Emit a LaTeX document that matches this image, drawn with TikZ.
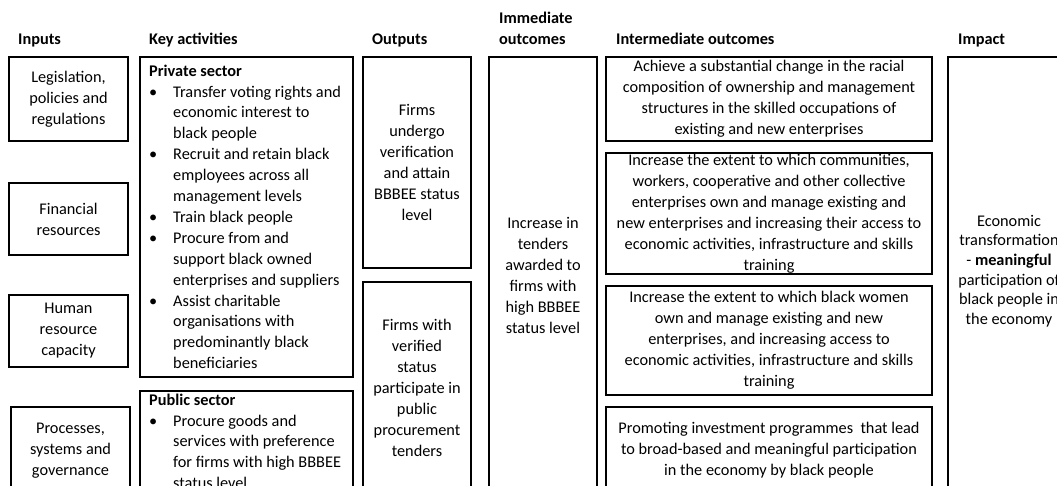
\documentclass[tikz,border=0pt]{standalone}
\usepackage{fontspec}
\setmainfont{Carlito}
\newcommand{\bul}{\makebox[24pt][l]{\textbullet}}
\newcommand{\ind}{\hspace*{24pt}}
\begin{document}
\begin{tikzpicture}[x=1pt,y=-1pt,
  box/.style={draw=black, line width=2.6pt, rectangle, inner sep=0pt, align=center,
    font=\fontsize{16.3}{21}\selectfont},
  head/.style={anchor=base west, inner sep=0pt, font=\fontsize{16.3}{21}\selectfont\bfseries},
  list/.style={anchor=north west, inner sep=0pt, align=left, font=\fontsize{16.3}{20.9}\selectfont}]
\useasboundingbox (0,0) rectangle (1057,486);
\clip (0,0) rectangle (1057,486);
\fill[white] (0,0) rectangle (1057,486);
% headers
\node[head] (hin) at (18,45) {Inputs};
\node[head] (hka) at (149,45) {Key activities};
\node[head] (hout) at (372,45) {Outputs};
\node[head] (him1) at (499,24) {Immediate};
\node[head] (him2) at (499,45) {outcomes};
\node[head] (hint) at (616,45) {Intermediate outcomes};
\node[head] (himp) at (958,45) {Impact};
% inputs
\node[box, minimum width=119pt, minimum height=84pt] (leg) at (68.5,99) {Legislation,\\policies and\\regulations};
\node[box, minimum width=119pt, minimum height=72pt] (fin) at (68.5,219) {Financial\\resources};
\node[box, minimum width=119pt, minimum height=72pt] (hum) at (68.5,331) {Human\\resource\\capacity};
\node[box, minimum width=119pt, minimum height=87pt] (proc) at (70.5,450.5) {Processes,\\systems and\\governance};
% key activities
\node[box, minimum width=213pt, minimum height=320pt] (priv) at (246.5,217) {};
\node[list] (privt) at (149,64.5) {\textbf{Private sector}\\
\bul Transfer voting rights and\\
\ind economic interest to\\
\ind black people\\
\bul Recruit and retain black\\
\ind employees across all\\
\ind management levels\\
\bul Train black people\\
\bul Procure from and\\
\ind support black owned\\
\ind enterprises and suppliers\\
\bul Assist charitable\\
\ind organisations with\\
\ind predominantly black\\
\ind beneficiaries};
\node[box, minimum width=213pt, minimum height=109pt] (pub) at (246.5,445.5) {};
\node[list] (pubt) at (149,393.5) {\textbf{Public sector}\\
\bul Procure goods and\\
\ind services with preference\\
\ind for firms with high BBBEE\\
\ind status level};
% outputs
\node[box, minimum width=108pt, minimum height=211pt] (out1) at (417,162.5) {Firms\\undergo\\verification\\and attain\\BBBEE status\\level};
\node[box, minimum width=108pt, minimum height=212pt] (out2) at (417,388) {Firms with\\verified\\status\\participate in\\public\\procurement\\tenders};
% immediate
\node[box, minimum width=108pt, minimum height=437pt] (imm) at (543,275.5) {Increase in\\tenders\\awarded to\\firms with\\high BBBEE\\status level};
% intermediate
\node[box, minimum width=326pt, minimum height=84pt] (int1) at (769,99) {Achieve a substantial change in the racial\\composition of ownership and management\\structures in the skilled occupations of\\existing and new enterprises};
\node[box, minimum width=326pt, minimum height=121pt] (int2) at (769,213.5) {Increase the extent to which communities,\\workers, cooperative and other collective\\enterprises own and manage existing and\\new enterprises and increasing their access to\\economic activities, infrastructure and skills\\training};
\node[box, minimum width=326pt, minimum height=109pt] (int3) at (769,340.5) {Increase the extent to which black women\\own and manage existing and new\\enterprises, and increasing access to\\economic activities, infrastructure and skills\\training};
\node[box, minimum width=326pt, minimum height=87pt] (int4) at (769,450.5) {Promoting investment programmes\ \ that lead\\to broad-based and meaningful participation\\in the economy by black people};
% impact
\node[box, minimum width=122pt, minimum height=443pt] (imp) at (1009,278.5) {};
\node[inner sep=0pt, align=center, font=\fontsize{16.3}{19.7}\selectfont] (impt) at (1009,271) {Economic\\transformation\\- \textbf{meaningful}\\participation of\\black people in\\the economy};
\end{tikzpicture}
\end{document}
